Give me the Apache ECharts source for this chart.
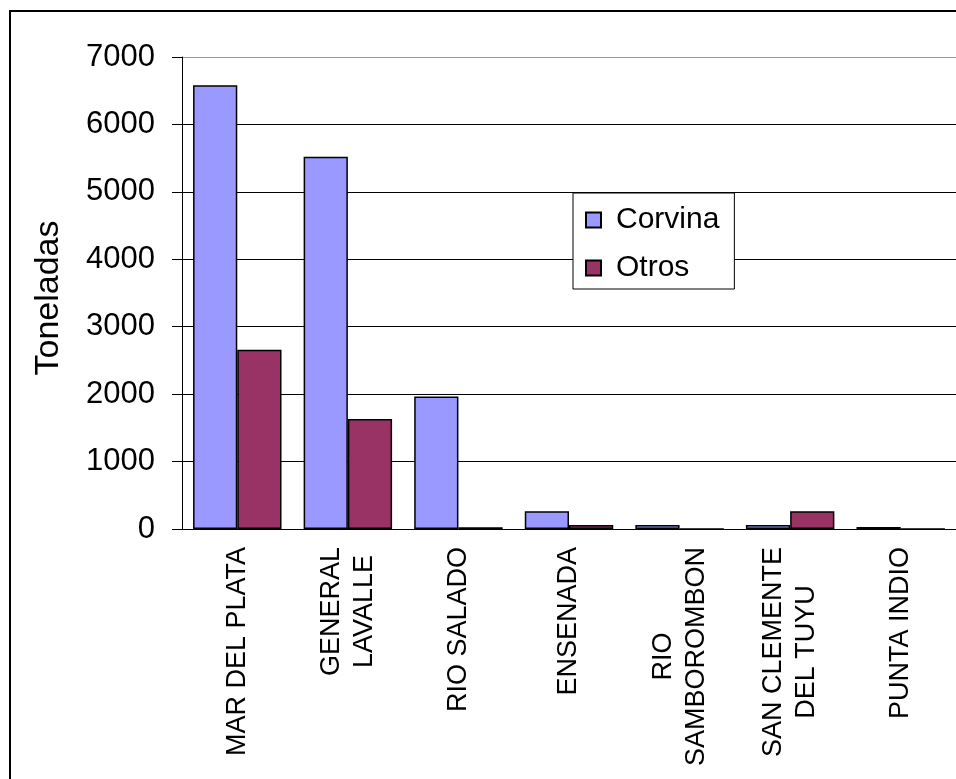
<!DOCTYPE html>
<html>
<head>
<meta charset="utf-8">
<script src="https://cdn.jsdelivr.net/npm/echarts@6/dist/echarts.min.js"></script>
<style>
html,body{margin:0;padding:0;background:#fff;}
#chart{width:956px;height:779px;}
</style>
</head>
<body>
<div id="chart"></div>
<script>
const categories = ['MAR DEL PLATA', 'GENERAL\nLAVALLE', 'RIO SALADO', 'ENSENADA', 'RIO\nSAMBOROMBON', 'SAN CLEMENTE\nDEL TUYU', 'PUNTA INDIO'];
const corvina = [6580, 5520, 1965, 265, 60, 60, 28];
const otros = [2660, 1630, 25, 60, 0, 265, 0];
const seriesNames = ['Corvina', 'Otros'];
const yTicks = { min: 0, max: 7000, interval: 1000 };

const FONT = '"Liberation Sans", Arial, sans-serif';
const chart = echarts.init(document.getElementById('chart'));
chart.setOption({
  animation: false,
  backgroundColor: '#fff',
  graphic: [{
    type: 'rect',
    shape: { x: 10, y: 11, width: 1000, height: 1000 },
    style: { fill: 'none', stroke: '#000', lineWidth: 2 },
    silent: true
  }],
  grid: { left: 182, top: 57, width: 793, height: 472 },
  legend: {
    orient: 'vertical',
    left: 573, top: 193,
    padding: [12, 15, 6, 12],
    itemGap: 18,
    itemWidth: 15, itemHeight: 15,
    icon: 'rect',
    borderColor: '#000', borderWidth: 1,
    backgroundColor: '#fff',
    textStyle: { fontFamily: FONT, fontSize: 30, color: '#000', padding: [0, 0, 0, 10] },
    data: seriesNames
  },
  xAxis: {
    type: 'category',
    data: categories,
    axisLine: { lineStyle: { color: '#000', width: 1 } },
    axisTick: { length: 7, lineStyle: { color: '#000' } },
    axisLabel: {
      rotate: 90, interval: 0, margin: 18,
      fontFamily: FONT, fontSize: 27, color: '#000',
      lineHeight: 33, align: 'right',
      formatter: function (v) {
        return v.split('\n').map(function (s) { return '{c|' + s + '}'; }).join('\n');
      },
      rich: { c: { align: 'center', fontFamily: FONT, fontSize: 27, color: '#000', lineHeight: 33 } }
    }
  },
  yAxis: {
    type: 'value',
    min: yTicks.min, max: yTicks.max, interval: yTicks.interval,
    name: 'Toneladas',
    nameLocation: 'middle',
    nameGap: 116,
    nameRotate: 90,
    nameTextStyle: { fontFamily: FONT, fontSize: 34, color: '#000', padding: [0, 10, 0, 0] },
    axisLine: { show: true, lineStyle: { color: '#000', width: 1 } },
    axisTick: { show: true, length: 10, lineStyle: { color: '#000' } },
    axisLabel: { margin: 27, fontFamily: FONT, fontSize: 31, color: '#000', formatter: function (v) { return String(v); } },
    splitLine: { show: true, lineStyle: { color: ['#000','#000','#000','#000','#000','#000','#000','#999'], width: 1 } }
  },
  series: [
    {
      name: seriesNames[0], type: 'bar', data: corvina,
      barGap: '0%', barCategoryGap: '20%',
      itemStyle: { color: '#9999FF', borderColor: '#000', borderWidth: 1.5 }
    },
    {
      name: seriesNames[1], type: 'bar', data: otros,
      barGap: '0%', barCategoryGap: '20%',
      itemStyle: { color: '#993366', borderColor: '#000', borderWidth: 1.5 }
    }
  ]
});
</script>
</body>
</html>
